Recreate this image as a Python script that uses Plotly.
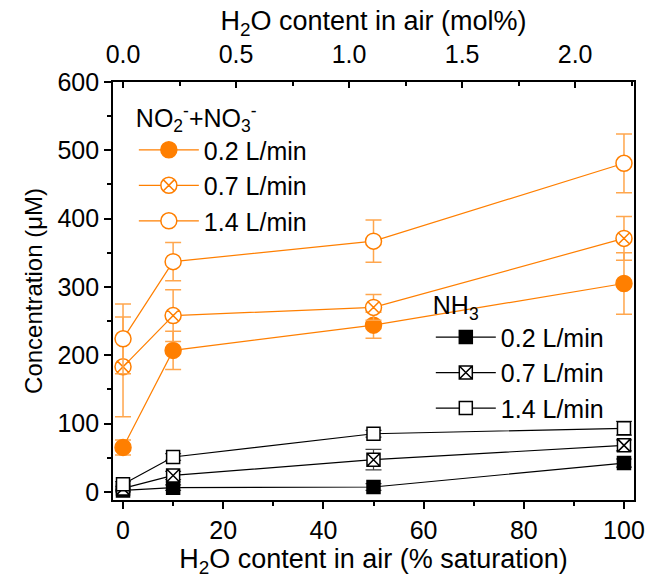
import plotly.graph_objects as go

# ---- data ----
x_sat = [0, 10, 50, 100]

nox_02 = [65, 207, 244, 305]
nox_02_err = [11, 28, 19, 45]
nox_07 = [183, 258, 270, 371]
nox_07_err = [73, 38, 19, 32]
nox_14 = [224, 337, 367, 481]
nox_14_err = [51, 28, 31, 43]

nh3_02 = [2, 6, 7, 42]
nh3_02_err = [2, 4, 5, 6]
nh3_07 = [5, 24, 47, 68]
nh3_07_err = [3, 6, 15, 8]
nh3_14 = [11, 51, 85, 93]
nh3_14_err = [4, 5, 5, 10]

flow_labels = ["0.2 L/min", "0.7 L/min", "1.4 L/min"]
top_ticks = [0.0, 0.5, 1.0, 1.5, 2.0]
top_tick_labels = ["0.0", "0.5", "1.0", "1.5", "2.0"]
bottom_ticks = [0, 20, 40, 60, 80, 100]
y_ticks = [0, 100, 200, 300, 400, 500, 600]

ORANGE = "#FF7F00"
ORANGE_ERR = "#FFA64D"
BLACK = "#000000"
GREY_ERR = "#444444"
FONT = "Arial, Liberation Sans, sans-serif"
TICK_SIZE = 25
XTITLE_SIZE = 27
YTITLE_SIZE = 24
LEG_SIZE = 25

fig = go.Figure()

nox_sets = [
    (nox_02, nox_02_err, "circle", ORANGE),
    (nox_07, nox_07_err, "circle-x", "white"),
    (nox_14, nox_14_err, "circle", "white"),
]
for i, (vals, err, sym, fill) in enumerate(nox_sets):
    fig.add_trace(go.Scatter(
        x=x_sat, y=vals, name=flow_labels[i], mode="lines+markers",
        line=dict(color=ORANGE, width=1.2),
        marker=dict(symbol=sym, size=16, color=fill,
                    line=dict(color=ORANGE, width=1.5)),
        error_y=dict(type="data", array=err, visible=True, color=ORANGE_ERR,
                     thickness=1.5, width=8),
        legend="legend", legendgroup="n%d" % i,
    ))

nh3_sets = [
    (nh3_02, nh3_02_err, "square", BLACK),
    (nh3_07, nh3_07_err, "square-x", "white"),
    (nh3_14, nh3_14_err, "square", "white"),
]
for i, (vals, err, sym, fill) in enumerate(nh3_sets):
    fig.add_trace(go.Scatter(
        x=x_sat, y=vals, name=flow_labels[i], mode="lines+markers",
        line=dict(color=BLACK, width=1.2),
        marker=dict(symbol=sym, size=13, color=fill,
                    line=dict(color=BLACK, width=1.5)),
        error_y=dict(type="data", array=err, visible=True, color=GREY_ERR,
                     thickness=1.2, width=8),
        legend="legend2", legendgroup="a%d" % i,
    ))

# dummy trace to activate the top axis
fig.add_trace(go.Scatter(x=[0, 2], y=[None, None], xaxis="x2", mode="markers",
                         showlegend=False, hoverinfo="skip"))

axis_common = dict(showgrid=False, zeroline=False, showline=True, linecolor="black",
                   linewidth=1.8, tickcolor="black", tickwidth=1.5, automargin=False,
                   tickfont=dict(size=TICK_SIZE, color="black", family=FONT))

fig.update_layout(
    width=647, height=580,
    margin=dict(l=113, r=13, t=82, b=80),
    plot_bgcolor="white", paper_bgcolor="white",
    font=dict(family=FONT, size=LEG_SIZE, color="black"),
    xaxis=dict(**axis_common, range=[-2, 102], tickvals=bottom_ticks,
               ticks="outside", ticklen=7, mirror=False,
               minor=dict(dtick=10, tick0=0, ticks="outside", ticklen=4,
                          tickcolor="black", tickwidth=1.5),
               title=dict(text="H<sub>2</sub>O content in air (% saturation)",
                          font=dict(size=XTITLE_SIZE, family=FONT), standoff=2)),
    xaxis2=dict(**axis_common, overlaying="x", side="top", anchor="y",
                range=[-2 * 0.02216, 102 * 0.02216],
                tickvals=top_ticks, ticktext=top_tick_labels,
                ticks="inside", ticklen=6, ticklabelstandoff=7,
                minor=dict(dtick=0.25, tick0=0, ticks="inside", ticklen=4,
                           tickcolor="black", tickwidth=1.5),
                title=dict(text="H<sub>2</sub>O content in air (mol%)",
                           font=dict(size=XTITLE_SIZE, family=FONT), standoff=0)),
    yaxis=dict(**axis_common, range=[-12, 600], tickvals=y_ticks,
               ticks="outside", ticklen=7, mirror=True,
               minor=dict(dtick=50, tick0=0, ticks="outside", ticklen=4,
                          tickcolor="black", tickwidth=1.5),
               title=dict(text="Concentration (μM)", font=dict(size=YTITLE_SIZE, family=FONT),
                          standoff=8)),
    showlegend=True,
    legend=dict(x=0.04, y=0.97, xanchor="left", yanchor="top",
                bgcolor="rgba(0,0,0,0)", font=dict(size=LEG_SIZE, family=FONT),
                title=dict(text="NO<sub>2</sub><sup>-</sup>+NO<sub>3</sub><sup>-</sup>",
                           font=dict(size=LEG_SIZE, family=FONT), side="top"),
                traceorder="grouped", tracegroupgap=0, itemwidth=60),
    legend2=dict(x=0.61, y=0.522, xanchor="left", yanchor="top",
                 bgcolor="rgba(0,0,0,0)", font=dict(size=LEG_SIZE, family=FONT),
                 title=dict(text="NH<sub>3</sub>", font=dict(size=LEG_SIZE, family=FONT),
                            side="top"),
                 traceorder="grouped", tracegroupgap=0, itemwidth=60),
)

fig.write_html("out.html")
